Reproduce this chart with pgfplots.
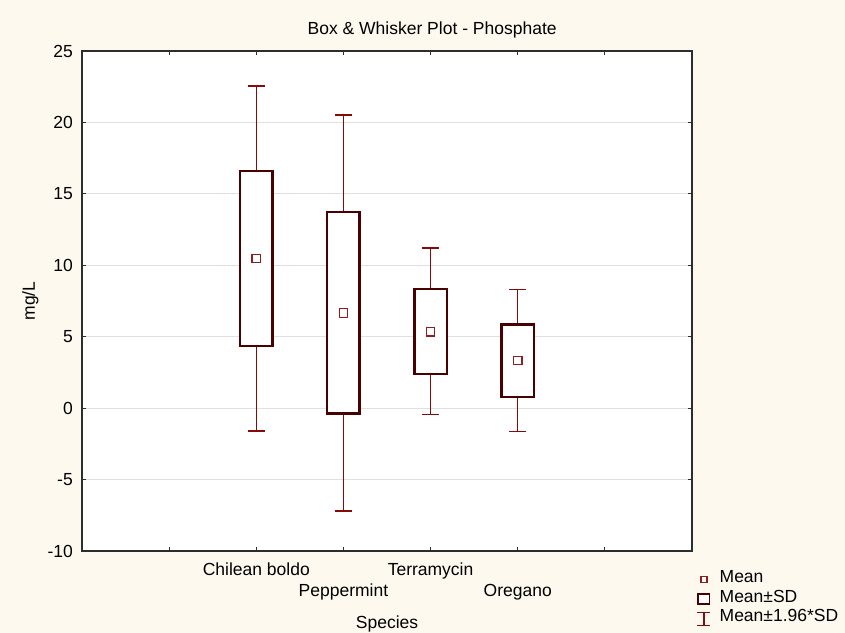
\documentclass[border=0pt]{standalone}
\usepackage{fontspec}
\setmainfont{Liberation Sans}
\usepackage{pgfplots}
\pgfplotsset{compat=1.18}
\usepgfplotslibrary{statistics}
\definecolor{bgcream}{RGB}{253,249,238}
\definecolor{boxred}{RGB}{72,0,0}
\definecolor{whiskred}{RGB}{135,10,10}
\definecolor{meanred}{RGB}{145,30,30}
\definecolor{gridgray}{RGB}{224,224,224}
\definecolor{framegray}{RGB}{45,45,45}
\newcommand\chartfont{\fontsize{17.5bp}{21bp}\selectfont}
\begin{document}
\begin{tikzpicture}
\fill[bgcream] (-82bp,-82bp) rectangle (763bp,551bp);
\begin{axis}[
  at={(0,0)}, anchor=south west,
  scale only axis, width=610bp, height=500bp,
  xmin=-2, xmax=5, ymin=-10, ymax=25,
  axis background/.style={fill=white},
  axis line style={framegray, line width=1.3bp},
  font=\chartfont,
  xtick={-2,-1,0,1,2,3,4,5},
  xticklabels={,,Chilean boldo,,Terramycin,,,},
  extra x ticks={1,3},
  extra x tick labels={Peppermint,Oregano},
  extra x tick style={xticklabel style={yshift=-21bp}},
  ytick={-10,-5,0,5,10,15,20,25},
  yticklabels={-10,-5,0,5,10,15,20,25},
  tick align=inside,
  major tick length=4bp,
  tick style={framegray, line width=0.9bp},
  xticklabel style={inner sep=0pt, anchor=north, yshift=-12bp},
  yticklabel style={inner sep=0pt, anchor=east, xshift=-9bp},
  ymajorgrids,
  grid style={gridgray, line width=1bp},
  title={Box \& Whisker Plot - Phosphate},
  title style={at={(axis description cs:0.574,1.058)}, anchor=north, inner sep=0pt, yshift=-6pt},
  xlabel={Species},
  xlabel style={at={(axis description cs:0.5,-0.13)}, anchor=north, inner sep=0pt},
  ylabel={mg/L},
  ylabel style={at={(axis description cs:-0.0984,0.5)}, anchor=north, inner sep=0pt},
  boxplot/draw direction=y,
  boxplot/every box/.style={draw=boxred, line width=2.2bp, fill=white},
  boxplot/every whisker/.style={draw=whiskred, line width=1.4bp},
  boxplot/every median/.style={draw=none},
  legend style={draw=none, fill=none, inner sep=0pt, outer sep=0pt,
    at={(axis description cs:1.008,-0.038)}, anchor=north west,
    font=\chartfont, row sep=0pt, column sep=0pt,
    nodes={inner sep=0pt, text height=13bp, text depth=6.5bp},
    cells={anchor=west}},
]
% Chilean boldo
\addplot[forget plot, boxred, boxplot prepared={draw position=0, lower whisker=-1.6, lower quartile=4.35, median=10.47, upper quartile=16.6, upper whisker=22.55, box extend=0.37, whisker extend=0.2}] coordinates {};
% Peppermint
\addplot[forget plot, boxred, boxplot prepared={draw position=1, lower whisker=-7.2, lower quartile=-0.38, median=6.66, upper quartile=13.72, upper whisker=20.52, box extend=0.37, whisker extend=0.2}] coordinates {};
% Terramycin
\addplot[forget plot, boxred, boxplot prepared={draw position=2, lower whisker=-0.45, lower quartile=2.38, median=5.34, upper quartile=8.32, upper whisker=11.2, box extend=0.37, whisker extend=0.2}] coordinates {};
% Oregano
\addplot[forget plot, boxred, boxplot prepared={draw position=3, lower whisker=-1.62, lower quartile=0.8, median=3.34, upper quartile=5.86, upper whisker=8.32, box extend=0.37, whisker extend=0.2}] coordinates {};
% Means
\addplot[forget plot, only marks, mark=square*, mark size=4.2bp,
  mark options={draw=meanred, fill=white, line width=1.3bp}]
  coordinates {(0,10.47) (1,6.66) (2,5.34) (3,3.34)};
% Legend
\addlegendimage{legend image code/.code={
  \path (0bp,-6.5bp) (22bp,6.5bp);
  \draw[meanred, line width=1.1bp, fill=white] (3.5bp,-3bp) rectangle (9.5bp,3bp);}}
\addlegendentry{Mean}
\addlegendimage{legend image code/.code={
  \path (0bp,-6.5bp) (22bp,6.5bp);
  \draw[boxred, line width=1.6bp, fill=white] (0.5bp,-5bp) rectangle (12bp,5bp);}}
\addlegendentry{Mean±SD}
\addlegendimage{legend image code/.code={
  \path (0bp,-6.5bp) (22bp,6.5bp);
  \draw[whiskred, line width=1.2bp] (0bp,-6.5bp) -- (13bp,-6.5bp) (6.5bp,-6.5bp) -- (6.5bp,6.5bp) (0bp,6.5bp) -- (13bp,6.5bp);}}
\addlegendentry{Mean±1.96*SD}
\end{axis}
\pgfresetboundingbox
\path[use as bounding box] (-82bp,-82bp) rectangle (763bp,551bp);
\end{tikzpicture}
\end{document}
